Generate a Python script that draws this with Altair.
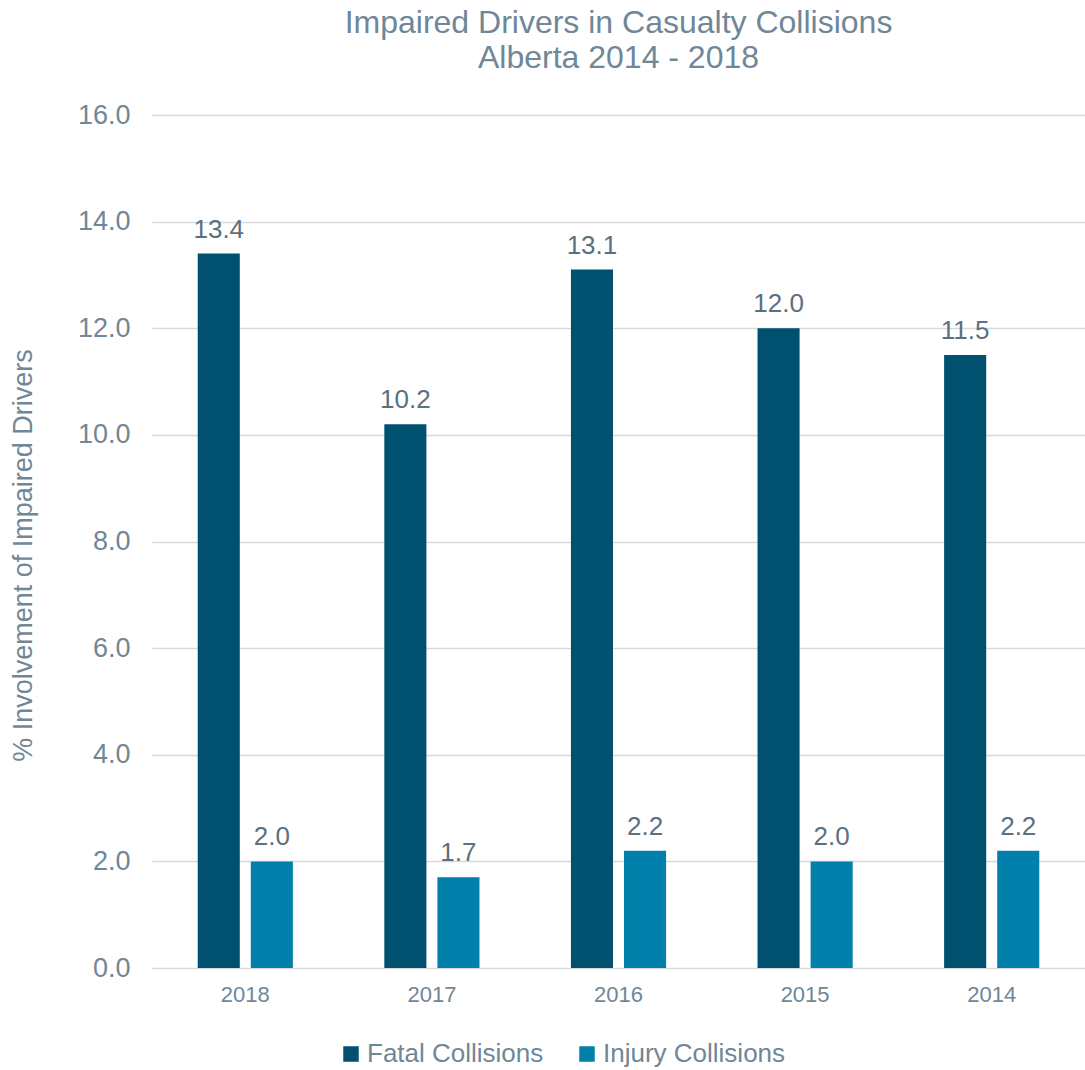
import altair as alt
import pandas as pd

years = ["2018", "2017", "2016", "2015", "2014"]
fatal = [13.4, 10.2, 13.1, 12.0, 11.5]
injury = [2.0, 1.7, 2.2, 2.0, 2.2]
series = ["Fatal Collisions", "Injury Collisions"]
colors = ["#00506F", "#0080AA"]

rows = []
for y, f, i in zip(years, fatal, injury):
    rows.append({"Year": y, "Series": series[0], "Value": f})
    rows.append({"Year": y, "Series": series[1], "Value": i})
df = pd.DataFrame(rows)

FONT = "Arial"
TXT = "#6F8797"

x = alt.X("Year:N", sort=years, title=None,
          scale=alt.Scale(paddingInner=0.49, paddingOuter=0.245),
          axis=alt.Axis(labelAngle=0, labelFontSize=22, labelColor=TXT, labelFont=FONT,
                        ticks=False, labelPadding=16, domainColor="#D9D9D9", grid=False))
xo = alt.XOffset("Series:N", sort=series, scale=alt.Scale(paddingInner=0.2075, paddingOuter=0))

base = alt.Chart(df).encode(x=x, xOffset=xo)

bars = base.mark_bar().encode(
    y=alt.Y("Value:Q", scale=alt.Scale(domain=[0, 16]),
            title="% Involvement of Impaired Drivers",
            axis=alt.Axis(values=[0, 2, 4, 6, 8, 10, 12, 14, 16], format=".1f",
                          labelFontSize=27, labelColor=TXT, labelFont=FONT,
                          ticks=False, domain=False, labelPadding=22,
                          gridColor="#D9D9D9", gridWidth=1.3,
                          titleFontSize=27, titleFont=FONT, titleColor=TXT,
                          titleFontWeight="normal", titlePadding=40, titleY=440)),
    color=alt.Color("Series:N", sort=series,
                    scale=alt.Scale(domain=series, range=colors),
                    legend=alt.Legend(title=None, orient="none", direction="horizontal",
                                      legendX=186, legendY=926,
                                      symbolType="square", symbolSize=240,
                                      symbolStrokeWidth=0, labelFontSize=26,
                                      labelColor=TXT, labelFont=FONT, labelLimit=400,
                                      columnPadding=30, labelOffset=3)),
)

labels = base.mark_text(dy=-24, fontSize=26, font=FONT, color="#5B7080").encode(
    y=alt.Y("Value:Q"),
    text=alt.Text("Value:Q", format=".1f"),
)

chart = alt.layer(bars, labels).properties(
    width=933, height=853,
    title=alt.Title(["Impaired Drivers in Casualty Collisions", "Alberta 2014 - 2018"],
                    fontSize=32, font=FONT, color=TXT, fontWeight="normal",
                    anchor="middle", lineHeight=35, offset=26),
    autosize=alt.AutoSizeParams(type="none"),
    padding={"left": 152, "top": 115, "right": 0, "bottom": 102},
).configure_view(stroke=None)

chart.save("out.html", embed_options={"renderer": "svg", "actions": False})
